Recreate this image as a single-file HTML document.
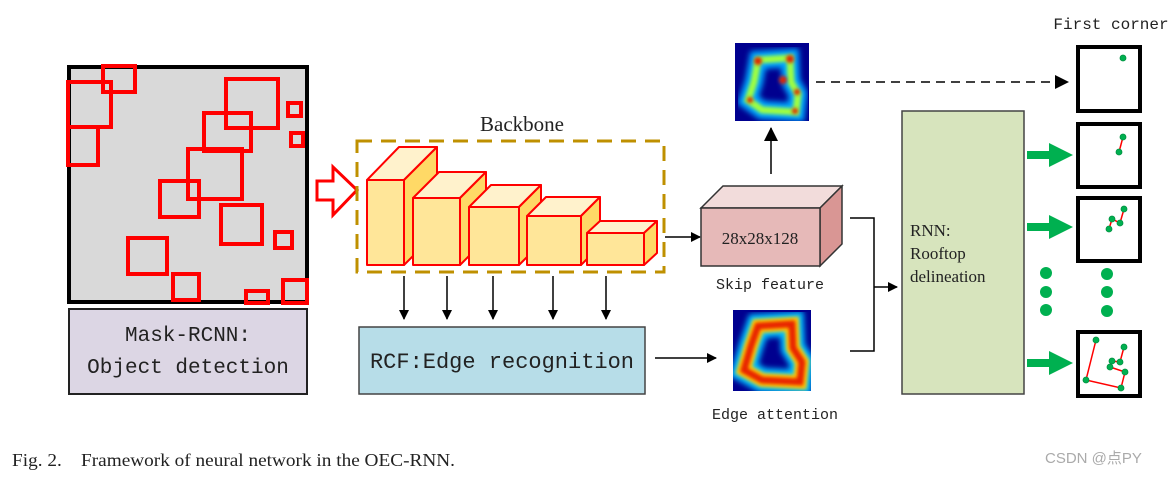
<!DOCTYPE html>
<html><head><meta charset="utf-8"><style>
body{margin:0;background:#fff;}
svg{display:block;}
.m{font-family:"Liberation Mono","DejaVu Sans Mono",monospace;}
.s{font-family:"Liberation Serif",serif;}
</style></head><body>
<svg width="1174" height="477" viewBox="0 0 1174 477" xmlns="http://www.w3.org/2000/svg">
<defs>
<marker id="ah" markerWidth="10" markerHeight="10" refX="9" refY="5" orient="auto" markerUnits="userSpaceOnUse"><path d="M0,0 L10,5 L0,10 z" fill="#000"/></marker>
<marker id="ah2" markerWidth="14" markerHeight="14" refX="13" refY="7" orient="auto" markerUnits="userSpaceOnUse"><path d="M0,0 L14,7 L0,14 z" fill="#000"/></marker>
<filter id="b1" x="-20%" y="-20%" width="140%" height="140%"><feGaussianBlur stdDeviation="3"/></filter>
<filter id="b2" x="-20%" y="-20%" width="140%" height="140%"><feGaussianBlur stdDeviation="1.8"/></filter>
<clipPath id="c1"><rect x="735" y="43" width="74" height="78"/></clipPath>
<clipPath id="c2"><rect x="733" y="310" width="78" height="81"/></clipPath>
</defs>

<rect x="69" y="67" width="238" height="235" fill="#d9d9d9" stroke="#000" stroke-width="4"/>
<g fill="none" stroke="#f00" stroke-width="4">
<rect x="103" y="66" width="32" height="26"/>
<rect x="68" y="82" width="43" height="45"/>
<rect x="68" y="127" width="30" height="38"/>
<rect x="204" y="113" width="47" height="38"/>
<rect x="226" y="79" width="52" height="49"/>
<rect x="160" y="181" width="39" height="36"/>
<rect x="188" y="149" width="54" height="50"/>
<rect x="221" y="205" width="41" height="39"/>
<rect x="288" y="103" width="13" height="13"/>
<rect x="291" y="133" width="12" height="13"/>
<rect x="275" y="232" width="17" height="16"/>
<rect x="128" y="238" width="39" height="36"/>
<rect x="173" y="274" width="26" height="26"/>
<rect x="246" y="291" width="22" height="12"/>
<rect x="283" y="280" width="24" height="23"/>
</g>
<rect x="69" y="309" width="238" height="85" fill="#dcd6e4" stroke="#222" stroke-width="2"/>
<text class="m" x="188" y="341" font-size="21" text-anchor="middle" fill="#222">Mask-RCNN:</text>
<text class="m" x="188" y="373" font-size="21" text-anchor="middle" fill="#222">Object detection</text>

<path d="M317,181 L333,181 L333,167 L357,190 L333,215 L333,200 L317,200 z" fill="#fff" stroke="#f00" stroke-width="3"/>

<text class="s" x="522" y="131" font-size="21" text-anchor="middle" fill="#222">Backbone</text>
<rect x="357" y="141" width="307" height="131" fill="none" stroke="#bf9000" stroke-width="3" stroke-dasharray="15,9"/>
<g stroke="#f00" stroke-width="2" stroke-linejoin="round">
<path d="M367,180 L399,147 L437,147 L404,180z" fill="#fff2cc"/><path d="M404,180 L437,147 L437,232 L404,265z" fill="#ffd966"/><rect x="367" y="180" width="37" height="85" fill="#ffe699"/>
<path d="M413,198 L439,172 L486,172 L460,198z" fill="#fff2cc"/><path d="M460,198 L486,172 L486,239 L460,265z" fill="#ffd966"/><rect x="413" y="198" width="47" height="67" fill="#ffe699"/>
<path d="M469,207 L491,185 L541,185 L519,207z" fill="#fff2cc"/><path d="M519,207 L541,185 L541,243 L519,265z" fill="#ffd966"/><rect x="469" y="207" width="50" height="58" fill="#ffe699"/>
<path d="M527,216 L546,197 L600,197 L581,216z" fill="#fff2cc"/><path d="M581,216 L600,197 L600,246 L581,265z" fill="#ffd966"/><rect x="527" y="216" width="54" height="49" fill="#ffe699"/>
<path d="M587,233 L600,221 L657,221 L644,233z" fill="#fff2cc"/><path d="M644,233 L657,221 L657,253 L644,265z" fill="#ffd966"/><rect x="587" y="233" width="57" height="32" fill="#ffe699"/>
</g>
<g stroke="#000" stroke-width="1.5" marker-end="url(#ah)">
<line x1="404" y1="276" x2="404" y2="319"/><line x1="447" y1="276" x2="447" y2="319"/><line x1="493" y1="276" x2="493" y2="319"/><line x1="553" y1="276" x2="553" y2="319"/><line x1="606" y1="276" x2="606" y2="319"/>
<line x1="665" y1="237" x2="700" y2="237"/>
<line x1="655" y1="358" x2="716" y2="358"/>
<line x1="874" y1="287" x2="897" y2="287"/>
</g>
<rect x="359" y="327" width="286" height="67" fill="#b7dde8" stroke="#444" stroke-width="1.5"/>
<text class="m" x="502" y="368" font-size="22" text-anchor="middle" fill="#222">RCF:Edge recognition</text>

<path d="M701,208 L723,186 L842,186 L820,208z" fill="#f2dcdb" stroke="#333" stroke-width="1.5"/>
<path d="M820,208 L842,186 L842,244 L820,266z" fill="#d99694" stroke="#333" stroke-width="1.5"/>
<rect x="701" y="208" width="119" height="58" fill="#e6b9b8" stroke="#333" stroke-width="1.5"/>
<text class="s" x="760" y="244" font-size="17" text-anchor="middle" fill="#222">28x28x128</text>
<text class="m" x="770" y="289" font-size="15" text-anchor="middle" fill="#222">Skip feature</text>
<line x1="771" y1="174" x2="771" y2="128" stroke="#000" stroke-width="1.5" marker-end="url(#ah2)"/>

<g clip-path="url(#c1)">
<rect x="735" y="43" width="74" height="78" fill="#00008f"/>
<path d="M758,60 L790,58 L791,82 L798,94 L796,112 L762,110 L748,100 L754,82z" fill="none" stroke="#00a8ff" stroke-width="18" filter="url(#b1)"/>
<path d="M758,60 L790,58 L791,82 L798,94 L796,112 L762,110 L748,100 L754,82z" fill="none" stroke="#a0ff40" stroke-width="7" filter="url(#b2)"/>
<g fill="#e02000" filter="url(#b2)"><circle cx="758" cy="61" r="4"/><circle cx="790" cy="59" r="4"/><circle cx="783" cy="80" r="4"/><circle cx="797" cy="92" r="3"/><circle cx="795" cy="111" r="3"/><circle cx="750" cy="100" r="3"/></g>
</g>
<line x1="816" y1="82" x2="1068" y2="82" stroke="#000" stroke-width="1.5" stroke-dasharray="9,6" marker-end="url(#ah2)"/>

<g clip-path="url(#c2)">
<rect x="733" y="310" width="78" height="81" fill="#00008f"/>
<path d="M758,326 L792,324 L793,348 L802,362 L800,382 L762,380 L744,370 L751,346z" fill="none" stroke="#00c0ff" stroke-width="24" filter="url(#b1)"/>
<path d="M758,326 L792,324 L793,348 L802,362 L800,382 L762,380 L744,370 L751,346z" fill="none" stroke="#ffd000" stroke-width="14" filter="url(#b2)"/>
<path d="M758,326 L792,324 L793,348 L802,362 L800,382 L762,380 L744,370 L751,346z" fill="none" stroke="#e82000" stroke-width="7" filter="url(#b2)"/>
</g>
<text class="m" x="775" y="419" font-size="15" text-anchor="middle" fill="#222">Edge attention</text>

<path d="M850,218 L874,218 L874,351 L850,351" fill="none" stroke="#000" stroke-width="1.5"/>

<rect x="902" y="111" width="122" height="283" fill="#d7e4bd" stroke="#444" stroke-width="1.5"/>
<text class="s" x="910" y="236" font-size="17" fill="#222">RNN:</text>
<text class="s" x="910" y="259" font-size="17" fill="#222">Rooftop</text>
<text class="s" x="910" y="282" font-size="17" fill="#222">delineation</text>

<g fill="#00b050">
<path d="M1027,151 L1049,151 L1049,143 L1073,155 L1049,167 L1049,159 L1027,159z"/>
<path d="M1027,223 L1049,223 L1049,215 L1073,227 L1049,239 L1049,231 L1027,231z"/>
<path d="M1027,359 L1049,359 L1049,351 L1073,363 L1049,375 L1049,367 L1027,367z"/>
<circle cx="1046" cy="273" r="6"/><circle cx="1046" cy="292" r="6"/><circle cx="1046" cy="310" r="6"/>
<circle cx="1107" cy="274" r="6"/><circle cx="1107" cy="292" r="6"/><circle cx="1107" cy="311" r="6"/>
</g>

<text class="m" x="1111" y="29" font-size="16" text-anchor="middle" fill="#222">First corner</text>
<g fill="#fff" stroke="#000" stroke-width="4">
<rect x="1078" y="47" width="62" height="64"/>
<rect x="1078" y="124" width="62" height="63"/>
<rect x="1078" y="198" width="62" height="63"/>
<rect x="1078" y="332" width="62" height="64"/>
</g>
<g stroke="#f00" stroke-width="1.5" fill="none">
<line x1="1123" y1="137" x2="1119" y2="152"/>
<path d="M1124,209 L1120,223 L1112,219 L1109,229"/>
<path d="M1096,340 L1086,380 L1121,388 L1125,372 L1110,367 L1112,361 L1120,362 L1124,347"/>
</g>
<g fill="#00b050" stroke="#009040" stroke-width="0.8">
<circle cx="1123" cy="58" r="3"/>
<circle cx="1123" cy="137" r="3"/><circle cx="1119" cy="152" r="3"/>
<circle cx="1124" cy="209" r="3"/><circle cx="1112" cy="219" r="3"/><circle cx="1120" cy="223" r="3"/><circle cx="1109" cy="229" r="3"/>
<circle cx="1096" cy="340" r="3"/><circle cx="1124" cy="347" r="3"/><circle cx="1112" cy="361" r="3"/><circle cx="1120" cy="362" r="3"/><circle cx="1110" cy="367" r="3"/><circle cx="1125" cy="372" r="3"/><circle cx="1121" cy="388" r="3"/><circle cx="1086" cy="380" r="3"/>
</g>

<text class="s" x="12" y="466" font-size="18" fill="#222" textLength="443" lengthAdjust="spacingAndGlyphs" xml:space="preserve">Fig. 2.    Framework of neural network in the OEC-RNN.</text>
<text x="1045" y="463" font-size="15" fill="#aaa" font-family="'Liberation Sans','Noto Sans CJK SC',sans-serif">CSDN @点PY</text>
</svg>
</body></html>
